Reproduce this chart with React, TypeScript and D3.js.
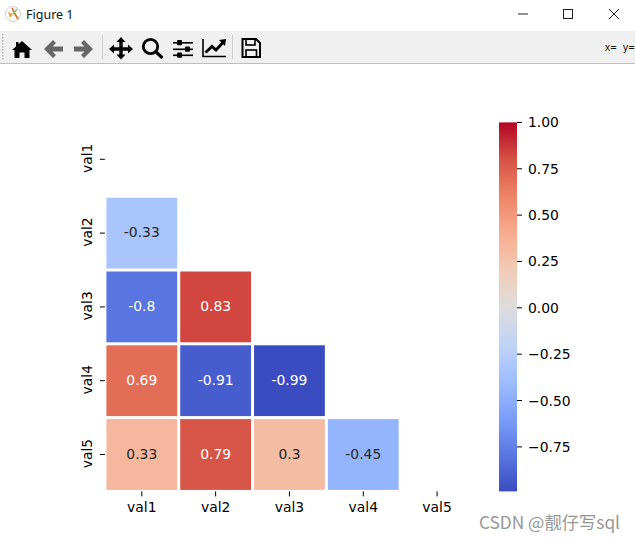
import React from "react";
import * as d3 from "d3";

const labels = ["val1", "val2", "val3", "val4", "val5"];
const row2 = [-0.33];
const row3 = [-0.8, 0.83];
const row4 = [0.69, -0.91, -0.99];
const row5 = [0.33, 0.79, 0.3, -0.45];
const rows: number[][] = [[], row2, row3, row4, row5];
const cbTicks = [1, 0.75, 0.5, 0.25, 0, -0.25, -0.5, -0.75];
const vmin = -0.99;
const vmax = 1;
const coolwarmStops = ["#3b4cc0", "#5977e3", "#7b9ff9", "#9ebeff", "#c0d4f5", "#dddcdc", "#f2cbb7", "#f7ac8e", "#ee8468", "#d65244", "#b40426"];

const W = 635, H = 541;
const PLOT = { l: 104.9, r: 474, t: 122.4, b: 491.4 };
const CB = { l: 499, r: 517 };
const FONT = "'DejaVu Sans', sans-serif";

const x = d3.scaleBand<string>().domain(labels).range([PLOT.l, PLOT.r]);
const y = d3.scaleBand<string>().domain(labels).range([PLOT.t, PLOT.b]);
const norm = d3.scaleLinear().domain([vmin, vmax]).range([0, 1]);
const lut = d3.scaleLinear<string>()
  .domain(d3.range(coolwarmStops.length).map((i) => i / (coolwarmStops.length - 1)))
  .range(coolwarmStops)
  .interpolate(d3.interpolateRgb as any);
const color = (v: number) => lut(norm(v));
const cbY = d3.scaleLinear().domain([vmin, vmax]).range([PLOT.b, PLOT.t]);
const fmt = (v: number) => v.toFixed(2).replace("-", "\u2212");
const GREY = "#666666";
const BLACK = "#000000";

function Toolbar() {
  return (
    <g>
      <rect x={0} y={31} width={W} height={32} fill="#f0f0f0" />
      <rect x={0} y={63} width={W} height={1} fill="#bdbdbd" />
      {d3.range(34, 60, 3).map((yy) => (
        <rect key={yy} x={2} y={yy} width={1.5} height={1.5} fill="#b5b5b5" />
      ))}
      {/* home */}
      <path d="M22 41 L32 50 L29.5 50 L29.5 58 L24.5 58 L24.5 52.5 L19.5 52.5 L19.5 58 L14.5 58 L14.5 50 L12 50 L16 46.4 L16 42 L18.5 42 L18.5 44.2 Z" fill={BLACK} />
      {/* back */}
      <path d="M53 40 L56 43 L52.5 46.5 L63 46.5 L63 51.5 L52.5 51.5 L56 55 L53 58 L44 49 Z" fill={GREY} />
      {/* forward */}
      <path d="M84 40 L81 43 L84.5 46.5 L74 46.5 L74 51.5 L84.5 51.5 L81 55 L84 58 L93 49 Z" fill={GREY} />
      <rect x={102} y={35} width={1} height={24} fill="#cfcfcf" />
      {/* move */}
      <path d="M121 37 L125.5 42 L122.7 42 L122.7 47.3 L128 47.3 L128 44.5 L133 49 L128 53.5 L128 50.7 L122.7 50.7 L122.7 54.5 L125.5 54.5 L121 59.5 L116.5 54.5 L119.3 54.5 L119.3 50.7 L114 50.7 L114 53.5 L109 49 L114 44.5 L114 47.3 L119.3 47.3 L119.3 42 L116.5 42 Z" fill={BLACK} />
      {/* zoom */}
      <circle cx={150.5} cy={46.5} r={7.2} fill="none" stroke={BLACK} strokeWidth={2.8} />
      <line x1={156} y1={52} x2={161.5} y2={57} stroke={BLACK} strokeWidth={3.2} strokeLinecap="round" />
      {/* sliders */}
      <g fill={BLACK}>
        <rect x={173} y={42} width={20} height={1.6} />
        <rect x={177} y={40} width={5} height={5.2} rx={1} />
        <rect x={173} y={48.5} width={20} height={1.6} />
        <rect x={185} y={46.5} width={5} height={5.2} rx={1} />
        <rect x={173} y={54.5} width={20} height={1.6} />
        <rect x={177} y={52.5} width={5} height={5.2} rx={1} />
      </g>
      {/* chart */}
      <path d="M203 39 L203 56.5 L226 56.5" fill="none" stroke={BLACK} strokeWidth={1.6} />
      <path d="M205.5 52.5 L212 46.5 L216 50 L223 42.5" fill="none" stroke={BLACK} strokeWidth={2.8} />
      <path d="M219 40 L226 39 L225 46 Z" fill={BLACK} />
      <rect x={232} y={35} width={1} height={24} fill="#cfcfcf" />
      {/* save */}
      <path d="M242.5 39 L256 39 L260 43 L260 57 L242.5 57 Z" fill="none" stroke={BLACK} strokeWidth={2} />
      <rect x={246} y={39} width={9} height={6} fill="none" stroke={BLACK} strokeWidth={1.6} />
      <rect x={246} y={50} width={10.5} height={7} fill="none" stroke={BLACK} strokeWidth={1.6} />
      <text x={604.5} y={51} fontFamily="'DejaVu Sans Mono', monospace" fontSize={10} fill="#111">x= y=</text>
    </g>
  );
}

function TitleBar() {
  return (
    <g>
      <circle cx={13} cy={14} r={7.5} fill="#fff" stroke="#cfcfcf" />
      <path d="M8 12 L13 14 L10 18 Z" fill="#e8a13a" />
      <path d="M12 8 L15 14 L18 19" stroke="#e0632a" strokeWidth={1.6} fill="none" />
      <path d="M17 9 L13 14" stroke="#8fc46a" strokeWidth={1.6} />
      <text x={26} y={19} fontFamily="'Noto Sans', 'Open Sans', sans-serif" fontSize={12.5} fill="#111">Figure 1</text>
      <rect x={518} y={13.5} width={10} height={1} fill="#222" />
      <rect x={563.5} y={9.5} width={9} height={9} fill="none" stroke="#222" />
      <path d="M609 9 L619 19 M619 9 L609 19" stroke="#222" strokeWidth={1} />
    </g>
  );
}

export default function App() {
  const gap = 3;
  return (
    <svg width={W} height={H} viewBox={`0 0 ${W} ${H}`} style={{ position: "absolute", left: 0, top: 0, background: "#fff" }}>
      <defs>
        <linearGradient id="cb" x1="0" x2="0" y1="1" y2="0">
          {d3.range(0, 1.0001, 0.05).map((t) => (
            <stop key={t} offset={t} stopColor={lut(t)} />
          ))}
        </linearGradient>
      </defs>
      <TitleBar />
      <Toolbar />
      {rows.map((vals, r) =>
        vals.map((v, c) => {
          const cx = x(labels[c])!;
          const cy = y(labels[r])!;
          const bw = x.bandwidth();
          const bh = y.bandwidth();
          return (
            <g key={`${r}-${c}`}>
              <rect x={cx + gap / 2} y={cy + gap / 2} width={bw - gap} height={bh - gap} fill={color(v)} />
              <text
                x={cx + bw / 2}
                y={cy + bh / 2 - 0.7}
                dy="0.36em"
                textAnchor="middle"
                fontFamily={FONT}
                fontSize={13.9}
                fill={Math.abs(v) > 0.6 ? "#ffffff" : "#262626"}
              >
                {String(v)}
              </text>
            </g>
          );
        })
      )}
      {labels.map((l) => {
        const cx = x(l)! + x.bandwidth() / 2;
        return (
          <g key={l}>
            <line x1={cx} x2={cx} y1={PLOT.b} y2={PLOT.b + 5} stroke="#000" />
            <text x={cx} y={PLOT.b + 20.5} textAnchor="middle" fontFamily={FONT} fontSize={13.9} fill="#000">{l}</text>
          </g>
        );
      })}
      {labels.map((l) => {
        const cy = y(l)! + y.bandwidth() / 2;
        return (
          <g key={l}>
            <line x1={PLOT.l - 5} x2={PLOT.l} y1={cy} y2={cy} stroke="#000" />
            <text transform={`translate(91.5,${cy - 1}) rotate(-90)`} textAnchor="middle" fontFamily={FONT} fontSize={13.9} fill="#000">{l}</text>
          </g>
        );
      })}
      <rect x={CB.l} y={PLOT.t} width={CB.r - CB.l} height={PLOT.b - PLOT.t} fill="url(#cb)" />
      {cbTicks.map((t) => (
        <g key={t}>
          <line x1={CB.r} x2={CB.r + 5} y1={cbY(t)} y2={cbY(t)} stroke="#000" />
          <text x={CB.r + 11} y={cbY(t)} dy="0.36em" fontFamily={FONT} fontSize={13.9} fill="#000">{fmt(t)}</text>
        </g>
      ))}
      <text x={479} y={529} fontFamily="'Noto Sans CJK SC', sans-serif" fontSize={17.3} fill="#8c8c8c" opacity={0.9}>CSDN @靓仔写sql</text>
    </svg>
  );
}
